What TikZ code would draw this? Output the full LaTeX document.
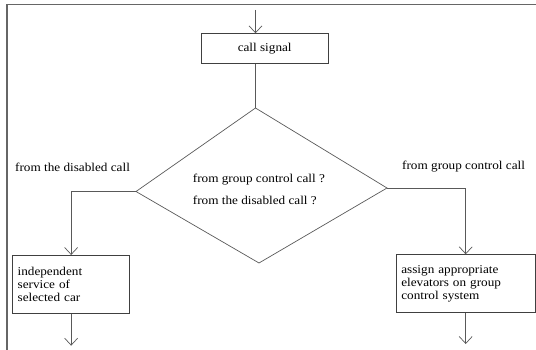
\documentclass[tikz,border=0pt]{standalone}
\usepackage{fontspec}
\setmainfont{Liberation Serif}[FakeStretch=1.1]
\usetikzlibrary{arrows.meta, positioning, calc}

\begin{document}
\begin{tikzpicture}[x=1pt, y=-1pt,
    every node/.style={font=\fontsize{12}{13.3}\selectfont},
    blk/.style={draw=black!75, line width=0.7pt, minimum height=30pt, inner sep=0pt, anchor=north west},
    act/.style={draw=black!75, line width=0.7pt, minimum height=58pt, align=left, inner sep=5pt, anchor=north west},
    lbl/.style={anchor=west, inner sep=0pt},
    ln/.style={draw=black!65, line width=0.7pt},
    dp/.style={ln, -{Straight Barb[length=7pt, width=13pt]}},
    frame/.style={draw=black!60, line width=1.5pt}
]
\useasboundingbox (0,0) rectangle (536,350);
\draw[frame] (536,4.5) -- (7,4.5) -- (7,350);

\node[blk, minimum width=126.7pt] (sig) at (201,33.3) {call signal};
\node[act, text width=107pt] (indep) at (12.3,255) {independent\\service of\\selected car};
\node[act, text width=128.7pt] (assign) at (396,254.3) {assign appropriate\\elevators on group\\control system};

% decision
\coordinate (in) at (255.5,10);
\coordinate (dT) at (255.5,108);
\coordinate (dL) at (136,191.5);
\coordinate (dR) at (387,188);
\coordinate (dB) at (259,263);
\draw[ln] (dT) -- (dR) -- (dB) -- (dL) -- cycle;
\node[lbl] (q1) at (192.7,180) {from group control call ?};
\node[lbl] (q2) at (192.7,200) {from the disabled call ?};

\node[lbl] (fromD) at (15,167) {from the disabled call};
\node[lbl] (fromG) at (402,167) {from group control call};

\draw[dp] (in) -- (in |- sig.north);
\draw[ln] (in |- sig.south) -- (dT);
\draw[dp] (dL) -| (indep.north);
\draw[dp] (dR) -| (assign.north);

\coordinate (outL) at ([yshift=-32pt]indep.south);
\coordinate (outR) at ([yshift=-31pt]assign.south);
\draw[dp] (indep.south) -- (outL);
\draw[dp] (assign.south) -- (outR);
\end{tikzpicture}
\end{document}
